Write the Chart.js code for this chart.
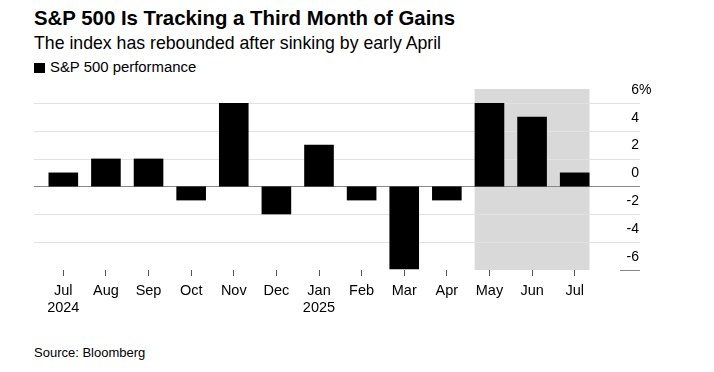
<!DOCTYPE html>
<html>
<head>
<meta charset="utf-8">
<script src="https://cdn.jsdelivr.net/npm/chart.js@4.4.1/dist/chart.umd.min.js"></script>
<style>
  html, body { margin: 0; padding: 0; background: #fff; }
  body { width: 714px; height: 372px; position: relative; overflow: hidden;
    font-family: "Liberation Sans", Arial, sans-serif; color: #000; }
  #chart { position: absolute; left: 0; top: 0; }
  .txt { position: absolute; left: 34px; white-space: nowrap; }
  #title { top: 7.7px; font-size: 20.4px; line-height: 20.4px; font-weight: bold; }
  #subtitle { top: 35px; font-size: 17.7px; line-height: 17.7px; }
  #legend { top: 60.2px; font-size: 14.9px; line-height: 14.9px; }
  #legend span { display: inline-block; width: 11px; height: 10px; background: #000; margin-right: 5px; vertical-align: -1px; }
  #source { top: 346px; font-size: 13px; line-height: 13px; }
</style>
</head>
<body>
<div id="title" class="txt">S&amp;P 500 Is Tracking a Third Month of Gains</div>
<div id="subtitle" class="txt">The index has rebounded after sinking by early April</div>
<div id="legend" class="txt"><span></span>S&amp;P 500 performance</div>
<div id="source" class="txt">Source: Bloomberg</div>
<canvas id="chart" width="714" height="372"></canvas>
<script>
// Chart data (monthly % change)
const months = ["Jul", "Aug", "Sep", "Oct", "Nov", "Dec", "Jan", "Feb", "Mar", "Apr", "May", "Jun", "Jul"]
const years = ["2024", "", "", "", "", "", "2025", "", "", "", "", "", ""]
const performance = [1.0, 2.0, 2.0, -1.0, 6.0, -2.0, 3.0, -1.0, -5.95, -1.0, 6.0, 5.0, 1.0]
const yTicks = [-6, -4, -2, 0, 2, 4, 6]
// Highlighted months (May - Jul 2025)
const shadeFrom = 10
const shadeTo = 12

const labels = months.map((m, i) => (years[i] ? [m, years[i]] : m))

// Draws the shaded band, gridlines and right-hand tick labels
const backdrop = {
  id: "backdrop",
  beforeDatasetsDraw(chart) {
    const { ctx, chartArea } = chart
    const y = chart.scales.y
    const bars = chart.getDatasetMeta(0).data
    const left = bars[shadeFrom].x - bars[shadeFrom].width / 2
    const right = bars[shadeTo].x + bars[shadeTo].width / 2
    ctx.save()
    ctx.fillStyle = "#d9d9d9"
    ctx.fillRect(left, y.top, right - left, y.bottom - y.top)
    ctx.lineWidth = 1
    yTicks.forEach((v) => {
      const py = Math.round(y.getPixelForValue(v)) + 0.5
      ctx.beginPath()
      if (v === yTicks[0]) {
        ctx.strokeStyle = "#888"
        ctx.moveTo(chartArea.right + 24, py)
      } else {
        ctx.strokeStyle = v === 0 ? "#888" : "#e2e2e2"
        ctx.moveTo(chartArea.left - 8, py)
      }
      ctx.lineTo(chartArea.right + 44, py)
      ctx.stroke()
    })
    ctx.restore()
  },
  afterDraw(chart) {
    const { ctx, chartArea } = chart
    const y = chart.scales.y
    ctx.save()
    ctx.fillStyle = "#000"
    ctx.font = '14px "Liberation Sans", Arial, sans-serif'
    ctx.textBaseline = "middle"
    const lx = chartArea.right + 43
    yTicks.forEach((v) => {
      const py = y.getPixelForValue(v) - 13
      ctx.textAlign = "right"
      ctx.fillText(String(v), lx, py)
      if (v === yTicks[yTicks.length - 1]) {
        ctx.textAlign = "left"
        ctx.fillText("%", lx, py)
      }
    })
    ctx.restore()
  },
}

new Chart(document.getElementById("chart"), {
  type: "bar",
  data: {
    labels,
    datasets: [
      {
        label: "S&P 500 performance",
        data: performance,
        backgroundColor: "#000",
        categoryPercentage: 1,
        barPercentage: 0.695,
      },
    ],
  },
  options: {
    responsive: false,
    animation: false,
    layout: { padding: { top: 89, left: 42, right: 118, bottom: 0 } },
    plugins: { legend: { display: false }, tooltip: { enabled: false } },
    scales: {
      x: {
        border: { display: false },
        grid: { drawOnChartArea: false, drawTicks: true, tickLength: 6, offset: false, color: "#555" },
        ticks: {
          color: "#000",
          font: { size: 14.5, family: '"Liberation Sans", Arial, sans-serif', lineHeight: 1.15 },
          padding: 7,
          maxRotation: 0,
          autoSkip: false,
        },
        afterFit: (s) => { s.height = 102 },
      },
      y: {
        display: false,
        min: -6,
        max: 7,
        afterBuildTicks: (s) => { s.ticks = yTicks.map((value) => ({ value })) },
      },
    },
  },
  plugins: [backdrop],
})
</script>
</body>
</html>
